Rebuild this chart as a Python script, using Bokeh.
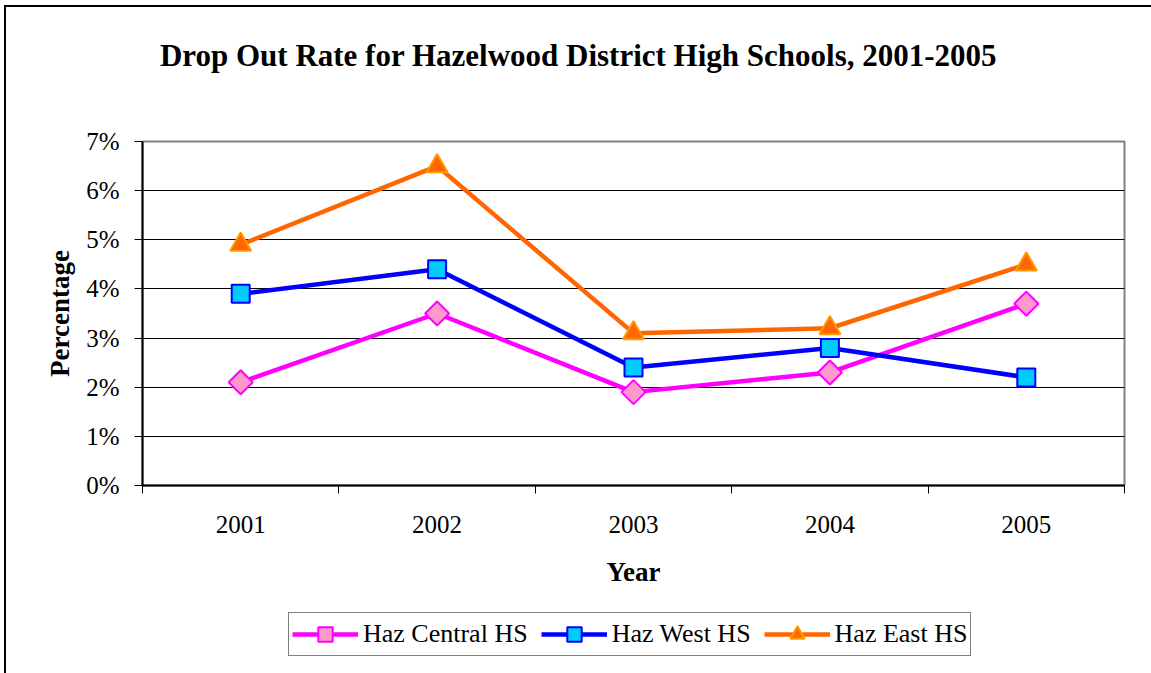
import math
from bokeh.plotting import figure
from bokeh.layouts import column
from bokeh.models import (FactorRange, Range1d, LinearAxis, FixedTicker, PrintfTickFormatter,
                          CustomJSTickFormatter, Legend, LegendItem, Grid, Label)
from bokeh.embed import file_html
from bokeh.resources import INLINE

# ---- data ----
years = ["2001", "2002", "2003", "2004", "2005"]
central = [2.1, 3.5, 1.9, 2.3, 3.7]
west = [3.9, 4.4, 2.4, 2.8, 2.2]
east = [4.9, 6.5, 3.1, 3.2, 4.5]
y_ticks = [0, 1, 2, 3, 4, 5, 6, 7]
series_names = ["Haz Central HS", "Haz West HS", "Haz East HS"]
title_text = "Drop Out Rate for Hazelwood District High Schools, 2001-2005"

FONT = "Liberation Serif"
W = 1145


def bare_figure(height, x_range, y_range):
    f = figure(width=W, height=height, x_range=x_range, y_range=y_range,
               output_backend="svg", toolbar_location=None,
               x_axis_type=None, y_axis_type=None, min_border=0)
    f.outline_line_color = None
    f.background_fill_color = "white"
    f.border_fill_color = "white"
    return f


def draw_series(f):
    r1 = f.line(years, central, line_color="#FF00FF", line_width=4.5)
    s1 = f.scatter(years, central, marker="square", angle=math.pi / 4, size=17,
                   fill_color="#FF99CC", line_color="#FF00FF", line_width=2)
    r2 = f.line(years, west, line_color="#0000FF", line_width=4.5)
    s2 = f.scatter(years, west, marker="square", size=18,
                   fill_color="#00CCFF", line_color="#0000FF", line_width=2)
    r3 = f.line(years, east, line_color="#FF6600", line_width=4.5)
    s3 = f.scatter(years, east, marker="triangle", size=21,
                   fill_color="#FF6600", line_color="#FF9900", line_width=2)
    return [[r1, s1], [r2, s2], [r3, s3]]


# ---- title strip ----
tf = bare_figure(93, Range1d(0, 1), Range1d(0, 1))
tf.add_layout(Label(x=436, y=45, x_units="screen", y_units="screen",
                    text=title_text, text_align="center", text_baseline="alphabetic",
                    text_font=FONT, text_font_style="bold", text_font_size="31px",
                    text_color="black"))

# ---- main chart ----
p = figure(width=W, height=500,
           x_range=FactorRange(*years, range_padding=0),
           y_range=Range1d(y_ticks[0], y_ticks[-1]),
           output_backend="svg", toolbar_location=None,
           x_axis_type=None, y_axis_type=None,
           min_border_left=136, min_border_right=27,
           min_border_top=41, min_border_bottom=115)
p.background_fill_color = "white"
p.border_fill_color = "white"
p.outline_line_color = "#808080"
p.outline_line_width = 2

centers = [i + 0.5 for i in range(len(years))]
bounds = list(range(len(years) + 1))
xaxis = LinearAxis(ticker=FixedTicker(ticks=centers, minor_ticks=bounds),
                   formatter=CustomJSTickFormatter(args=dict(years=years),
                                                   code="return years[Math.floor(tick)] ?? ''"),
                   major_tick_out=0, major_tick_in=0,
                   minor_tick_out=8, minor_tick_in=0,
                   minor_tick_line_color="black", minor_tick_line_width=1,
                   major_label_standoff=22,
                   major_label_text_font=FONT,
                   major_label_text_font_size="25px",
                   major_label_text_color="black",
                   axis_label="Year",
                   axis_label_text_font=FONT,
                   axis_label_text_font_style="bold",
                   axis_label_text_font_size="27px",
                   axis_label_text_color="black",
                   axis_label_standoff=21,
                   axis_line_color="black", axis_line_width=2)
p.add_layout(xaxis, "below")

yaxis = LinearAxis(ticker=FixedTicker(ticks=y_ticks),
                   formatter=PrintfTickFormatter(format="%d%%"),
                   major_tick_out=8, major_tick_in=0,
                   minor_tick_out=0, minor_tick_in=0,
                   major_label_standoff=15,
                   major_label_text_font=FONT,
                   major_label_text_font_size="25px",
                   major_label_text_color="black",
                   axis_label="Percentage",
                   axis_label_text_font=FONT,
                   axis_label_text_font_style="bold",
                   axis_label_text_font_size="27px",
                   axis_label_text_color="black",
                   axis_label_standoff=8,
                   axis_line_color="black", axis_line_width=2,
                   major_tick_line_color="black", major_tick_line_width=1)
p.add_layout(yaxis, "left")

p.add_layout(Grid(dimension=1, ticker=FixedTicker(ticks=y_ticks[1:-1]),
                  grid_line_color="black", grid_line_width=1))

draw_series(p)

# ---- legend strip (same series, out of its visible range) ----
lf = bare_figure(73, FactorRange(*years), Range1d(-2, -1))
leg_renderers = draw_series(lf)
legend = Legend(items=[LegendItem(label=name, renderers=rs)
                       for name, rs in zip(series_names, leg_renderers)],
                orientation="horizontal", location=(146, 17),
                label_text_font=FONT, label_text_font_size="26px",
                label_text_color="black",
                glyph_width=66, glyph_height=36, label_standoff=5,
                spacing=13, padding=3, margin=0,
                border_line_color="black", border_line_width=1,
                background_fill_color="white")
lf.add_layout(legend, "center")

page = column(tf, p, lf, spacing=0,
              styles={"margin-left": "4px", "margin-top": "5px",
                      "border-left": "2px solid black", "border-top": "2px solid black"})

open("out.html", "w").write(file_html(page, INLINE))
